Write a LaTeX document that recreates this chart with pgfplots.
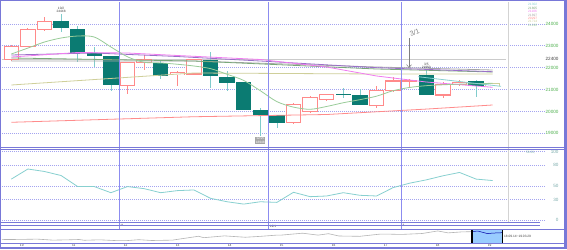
\documentclass[border=0pt]{standalone}
\usepackage{pgfplots}
\pgfplotsset{compat=1.18}
\usepackage{pgfplotstable}
\usetikzlibrary{arrows.meta}
\usepackage{fontspec}
\setmainfont{Liberation Sans}
\definecolor{frameblue}{HTML}{7878D8}
\definecolor{gridblue}{HTML}{A4A4F0}
\definecolor{monthblue}{HTML}{8C8CF0}
\definecolor{tealbody}{HTML}{0B7B72}
\definecolor{tealwick}{HTML}{80CCCC}
\definecolor{upred}{HTML}{FF8A8A}
\definecolor{ma13}{HTML}{99CC99}
\definecolor{mapink}{HTML}{F07CF0}
\definecolor{mapurple}{HTML}{9A70C8}
\definecolor{magray}{HTML}{A8A8A8}
\definecolor{madgreen}{HTML}{7AA87A}
\definecolor{makhaki}{HTML}{CFCF9A}
\definecolor{mared}{HTML}{FF8C8C}
\definecolor{labgreen}{HTML}{4CAF4C}
\definecolor{psycol}{HTML}{88D0D0}
\definecolor{navgray}{HTML}{B4B4B4}
\definecolor{selblue}{HTML}{99CCFF}
\definecolor{labteal}{HTML}{78AAAA}
\newcommand\tf{\fontsize{4.6}{5}\selectfont}
\newcommand\ttf{\fontsize{3.2}{3.4}\selectfont}

\pgfplotstableread{
i o h l c
0 22386 23050 22300 22990
1 22980 23830 22950 23757
2 23757 24300 23680 24137
7 21180 22280 20780 22232
8 22250 22580 21900 22380
10 21700 21830 21170 21760
11 21714 22420 21650 22386
17 19490 20400 19450 20340
18 20010 20700 19950 20630
19 20570 20800 20500 20785
22 20265 21180 20170 20937
23 20940 21590 20900 21394
24 21380 21490 21130 21420
26 20754 21360 20630 21243
27 21243 21420 21150 21335
}\upc
\pgfplotstableread{
i o h l c
3 24105 24448 23650 23830
4 23770 23910 22280 22690
5 22660 22965 22050 22537
6 22506 22530 20950 21244
9 22200 22300 21490 21654
12 22354 22720 21090 21622
13 21545 21865 20950 21316
14 21316 21330 20050 20068
15 20068 20150 18900 19840
16 19840 19850 19230 19490
20 20800 21060 20600 20760
21 20754 21015 20300 20329
25 21637 21897 20760 20785
28 21362 21440 20676 21180
}\downc
\pgfplotstableread{
i v
0 22628
1 22900
2 23177
3 23360
4 23451
5 23405
6 22950
7 22500
8 22250
9 22220
10 22160
11 22080
12 21960
13 21700
14 21420
15 20950
16 20450
17 20200
18 20100
19 20230
20 20400
21 20540
22 20700
23 20950
24 21100
25 21180
26 21220
27 21250
28 21270
29 21290
}\maA
\pgfplotstableread{
i v
0 59.9
1 74.6
2 71.0
3 65.1
4 49.0
5 49.0
6 40.1
7 49.0
8 46.0
9 40.1
10 43.1
11 44.1
12 31.9
13 26.9
14 23.5
15 26.9
16 26.0
17 40.7
18 34.3
19 35.3
20 40.1
21 36.3
22 35.3
23 47.5
24 54.0
25 58.8
26 64.7
27 69.6
28 59.9
29 57.8
}\psy

\pgfplotsset{
  panel/.style={scale only axis, anchor=north west, axis line style={draw=none},
    xmin=-0.56, xmax=32.15, width=543pt,
    tick style={draw=none},
    tick label style={font=\tf},
    scaled x ticks=false, scaled y ticks=false,
    /pgf/number format/assume math mode=true,
    clip=true},
  gridy/.style={ymajorgrids, major grid style={draw=gridblue, dash pattern=on 0.9pt off 1.1pt, line width=0.8pt}},
  ebar/.style 2 args={draw=none, mark=none, forget plot,
    error bars/y dir=both, error bars/y explicit, error bars/error mark=none,
    error bars/error bar style={draw=#1, line width=#2, solid}},
}

\begin{document}
\begin{tikzpicture}
\path[use as bounding box] (0,0) rectangle (567pt,-249pt);
\fill[white] (0,0) rectangle (567pt,-249pt);

% ---------------- main price panel
\begin{axis}[panel, at={(2pt,-2pt)}, height=145pt, ymin=18376, ymax=25006, gridy,
  xtick=\empty,
  ytick={19000,20000,21000,22000,23000,24000},
  yticklabels={19000,20000,21000,22000,23000,24000},
  yticklabel pos=right,
  yticklabel style={anchor=east, xshift=17pt, text=labgreen},
  extra y ticks={22400}, extra y tick labels={22400},
  extra y tick style={ymajorgrids=false, yticklabel style={text=darkgray}},
]
\addplot[magray!60, line width=0.7pt, forget plot] coordinates {(-0.56,22400) (29.8,22400)};
% wicks
\addplot[ebar={upred}{0.8pt}] table[x=i, y expr={(\thisrow{h}+\thisrow{l})/2}, y error expr={(\thisrow{h}-\thisrow{l})/2}] {\upc};
\addplot[ebar={tealwick}{0.8pt}] table[x=i, y expr={(\thisrow{h}+\thisrow{l})/2}, y error expr={(\thisrow{h}-\thisrow{l})/2}] {\downc};
% up bodies (hollow)
\addplot[ebar={upred}{15.5pt}] table[x=i, y expr={(\thisrow{o}+\thisrow{c})/2}, y error expr={abs(\thisrow{c}-\thisrow{o})/2+23}] {\upc};
\addplot[ebar={white}{13.5pt}] table[x=i, y expr={(\thisrow{o}+\thisrow{c})/2}, y error expr={max(abs(\thisrow{c}-\thisrow{o})/2-23,0)}] {\upc};
% down bodies (filled)
\addplot[ebar={tealbody}{15.5pt}] table[x=i, y expr={(\thisrow{o}+\thisrow{c})/2}, y error expr={abs(\thisrow{c}-\thisrow{o})/2+12}] {\downc};
% current week box
\addplot[ebar={makhaki}{15.5pt}] coordinates {(29,21227) +- (0,62)};
\addplot[ebar={white}{13.5pt}] coordinates {(29,21227) +- (0,18)};
% moving averages
\addplot[mared, line width=0.8pt] coordinates {(0,19506) (11,19760) (19,19862) (25,20110) (29,20297)};
\addplot[makhaki, line width=0.8pt] coordinates {(0,21211) (11,21760) (22,21714) (29,21714)};
\addplot[magray, line width=0.8pt] coordinates {(0,22308) (11,22308) (22,22034) (29,21897)};
\addplot[madgreen, line width=0.8pt] coordinates {(0,22446) (11,22308) (22,21943) (29,21805)};
\addplot[mapurple, line width=0.8pt] coordinates {(0,22583) (5,22674) (10,22514) (15,22308) (22,22002) (29,21819)};
\addplot[mapink, line width=0.8pt] coordinates {(0,22491) (4,22697) (7,22674) (10,22560) (15,22377) (19,22034) (22,21623) (25,21348) (29,21106)};
\addplot[ma13, line width=0.8pt, smooth] table[x=i, y=v] {\maA};
\addplot[psycol, line width=0.8pt] coordinates {(24.5,21590) (29.5,21150)};
% annotations
\node[font=\ttf, text=darkgray, align=center, anchor=south, inner sep=0.5pt] at (axis cs:3,24470) {10/2\\24448};
\node[font=\ttf, text=white, fill=gray!70, align=center, anchor=north, inner sep=0.6pt] at (axis cs:15,18840) {12/25\\18948};
\node[font=\ttf, text=darkgray, align=center, anchor=south, inner sep=0.5pt] at (axis cs:25,21920) {3/5\\21860};
\node[font=\fontsize{7}{7}\selectfont, text=gray, rotate=20, anchor=center] at (axis cs:24.3,23600) {3/1};
\draw[gray, line width=0.5pt, -{Straight Barb[length=3pt,width=5pt]}] (axis cs:23.96,23350) -- (axis cs:23.96,21990);
\end{axis}

% ---------------- oscillator panel
\begin{axis}[panel, at={(2pt,-150pt)}, height=72pt, ymin=-2.6, ymax=102.3, gridy,
  xtick={6.5,15.5,23.5}, xticklabels={11,19/1,3},
  xticklabel style={anchor=north west, inner sep=0.5pt, yshift=-2pt, xshift=0.5pt, text=darkgray, font=\ttf},
  ytick={0,30,50,80,100}, yticklabels={0,30,50,80,100},
  yticklabel pos=right,
  yticklabel style={anchor=east, xshift=17pt, text=labteal},
]
\addplot[psycol, line width=0.8pt] table[x=i, y=v] {\psy};
\end{axis}

% ---------------- navigator panel
\begin{axis}[scale only axis, anchor=north west, at={(2pt,-230pt)}, width=561pt, height=13pt,
  xmin=2009.62, xmax=2020.41, ymin=4800, ymax=25600, axis line style={draw=none},
  ytick=\empty, tick style={draw=none}, scaled x ticks=false,
  xtick={2010,2011,2012,2013,2014,2015,2016,2017,2018,2019},
  xticklabels={10,11,12,13,14,15,16,17,18,19},
  xticklabel style={font=\ttf, text=darkgray, inner sep=0.5pt, yshift=-0.8pt},
  clip=false]
\fill[selblue] (axis cs:2018.66,4800) rectangle (axis cs:2019.24,25600);
\addplot[navgray, line width=0.6pt] coordinates {
(2009.62,10300) (2009.9,10500) (2010.0,10600) (2010.3,11000) (2010.6,9400) (2010.9,9900)
(2011.1,10400) (2011.2,9200) (2011.5,9900) (2011.8,8700) (2012.0,8500) (2012.25,10100)
(2012.5,8800) (2012.9,9400) (2013.0,10700) (2013.4,15600) (2013.5,13300) (2013.9,16200)
(2014.3,14000) (2014.6,15500) (2014.9,17400) (2015.0,17500) (2015.4,20500) (2015.7,17400)
(2015.9,19700) (2016.1,16000) (2016.5,15500) (2016.9,19100) (2017.0,19100) (2017.3,18500)
(2017.7,20000) (2017.9,22700) (2018.0,24100) (2018.2,21000) (2018.45,22500) (2018.66,23000)};
\addplot[blue!65!black, line width=0.5pt] coordinates {(2018.68,23400) (2018.78,23800) (2018.85,22200) (2018.96,19800) (2019.05,20600) (2019.24,21300)};
\draw[black, line width=1.2pt] (axis cs:2018.66,4800) -- (axis cs:2018.66,25600);
\draw[black, line width=1.2pt] (axis cs:2019.24,4800) -- (axis cs:2019.24,25600);
\end{axis}
\node[font=\ttf, text=darkgray, anchor=west, inner sep=0pt] at (504pt,-236.5pt) {18.09.14\textasciitilde19.03.29};

% ---------------- frames and separators
\foreach \xx in {119.2,268.6,401.4} \draw[monthblue, line width=0.8pt] (\xx pt,-2pt) -- (\xx pt,-229pt);
\draw[magray!50, line width=0.7pt] (508.3pt,-2pt) -- (508.3pt,-222pt);
\draw[frameblue, line width=0.8pt] (0,-147.3pt) -- (567pt,-147.3pt);
\draw[frameblue, line width=0.8pt] (0,-149.8pt) -- (567pt,-149.8pt);
\draw[frameblue, line width=0.8pt] (0,-222.7pt) -- (540pt,-222.7pt);
\draw[frameblue, line width=0.8pt] (0,-225pt) -- (540pt,-225pt);
\draw[frameblue, line width=0.8pt] (0,-229.6pt) -- (567pt,-229.6pt);
\draw[frameblue, line width=0.8pt] (0,-243.8pt) -- (567pt,-243.8pt);
\draw[frameblue, line width=1.2pt] (0.6pt,-0.6pt) rectangle (566.4pt,-248.4pt);
\draw[frameblue, line width=2.6pt] (565.2pt,0) -- (565.2pt,-249pt);
\draw[frameblue, line width=1.6pt] (0,-248.2pt) -- (567pt,-248.2pt);

% ---------------- legend values
\node[anchor=north west, inner sep=0pt, align=left, font=\ttf] at (528pt,-3.5pt) {%
\textcolor{psycol}{21302}\\\textcolor{madgreen}{21805}\\\textcolor{mapink}{21106}\\\textcolor{magray}{21897}\\\textcolor{mared}{20297}\\\textcolor{makhaki}{21714}\\\textcolor{ma13}{21290}};
\node[anchor=west, inner sep=0pt, font=\ttf, text=labteal] at (526pt,-152.8pt) {58.33,};
\end{tikzpicture}
\end{document}
